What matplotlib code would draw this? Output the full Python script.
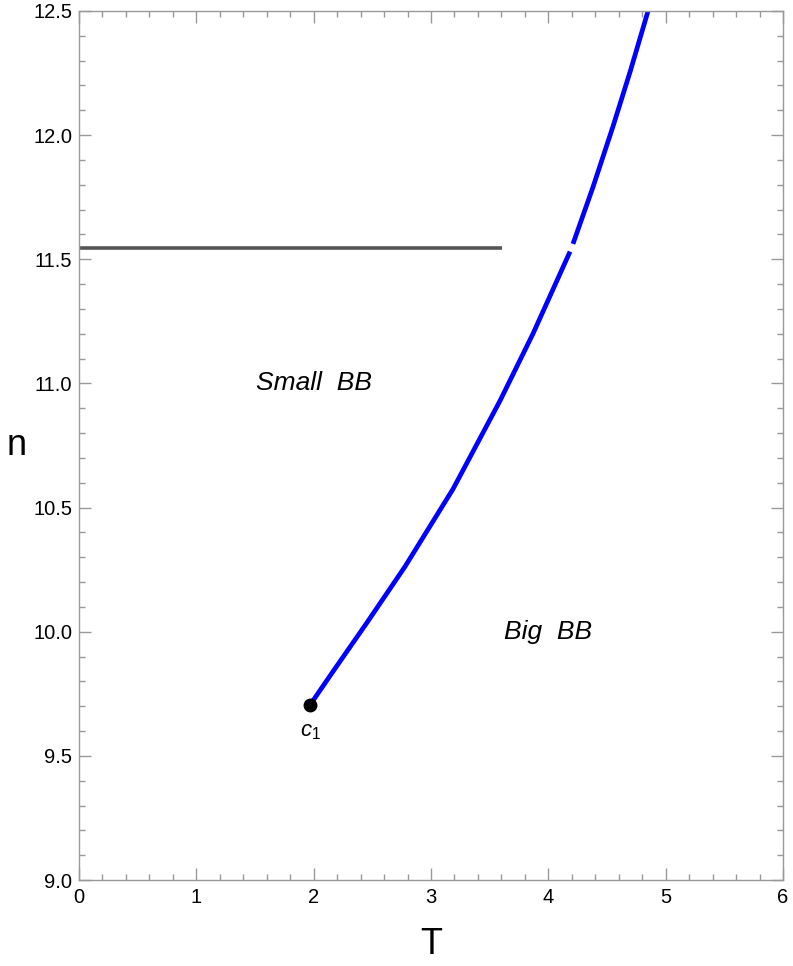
import numpy as np
import matplotlib.pyplot as plt

plt.rcParams['font.family'] = ['Liberation Sans', 'DejaVu Sans']
plt.rcParams['mathtext.fontset'] = 'custom'
plt.rcParams['mathtext.rm'] = 'Liberation Sans'
plt.rcParams['mathtext.it'] = 'Liberation Sans:italic'

# coexistence curve, lower part (from critical point c1 up to the gap)
T_low = [1.969, 2.165, 2.452, 2.778, 3.188, 3.588, 3.869, 4.185]
n_low = [9.705, 9.840, 10.035, 10.262, 10.575, 10.930, 11.200, 11.531]
# upper part (after the gap)
T_up = [4.210, 4.380, 4.551, 4.700, 4.848, 4.87]
n_up = [11.562, 11.790, 12.035, 12.260, 12.497, 12.53]

# horizontal line
n_h = 11.547
T_h = [0.0, 3.606]

# critical point
c1_T, c1_n = 1.969, 9.705

fig = plt.figure(figsize=(7.93, 9.66), dpi=100)
ax = fig.add_axes([79/793, 86/966, 704/793, 869/966])

ax.plot(T_h, [n_h, n_h], color='#555555', lw=2.6, solid_capstyle='butt')
ax.plot(T_low, n_low, color='#0000ff', lw=3.4, solid_capstyle='butt', solid_joinstyle='round')
ax.plot(T_up, n_up, color='#0000ff', lw=3.4, solid_capstyle='butt', solid_joinstyle='round')
ax.plot([c1_T], [c1_n], 'o', color='black', ms=9, zorder=5)

ax.text(c1_T, c1_n - 0.065, '$c_1$', ha='center', va='top', fontsize=16)
ax.text(2.0, 11.0, 'Small  BB', ha='center', va='center', fontsize=19, style='italic')
ax.text(4.0, 10.0, 'Big  BB', ha='center', va='center', fontsize=19, style='italic')

ax.set_xlim(0, 6)
ax.set_ylim(9, 12.5)
ax.set_xticks(np.arange(0, 7, 1))
ax.set_xticks(np.arange(0, 6.01, 0.2), minor=True)
ax.set_yticks(np.arange(9, 12.51, 0.5))
ax.set_yticks(np.arange(9, 12.51, 0.1), minor=True)
ax.set_yticklabels(['%.1f' % v for v in np.arange(9, 12.51, 0.5)])

for s in ax.spines.values():
    s.set_color('#999999')
    s.set_linewidth(1.0)
ax.tick_params(which='both', direction='in', top=True, right=True,
               color='#999999', width=1.0, labelsize=14.5, labelcolor='black')
ax.tick_params(which='major', length=8.5)
ax.tick_params(which='minor', length=4.5)
ax.tick_params(axis='x', which='major', pad=6)
ax.tick_params(axis='y', which='major', pad=5)

ax.set_xlabel('T', fontsize=26, labelpad=14)
ax.set_ylabel('n', fontsize=26, rotation=0, labelpad=12, va='center')

plt.savefig('out.png', dpi=100)
